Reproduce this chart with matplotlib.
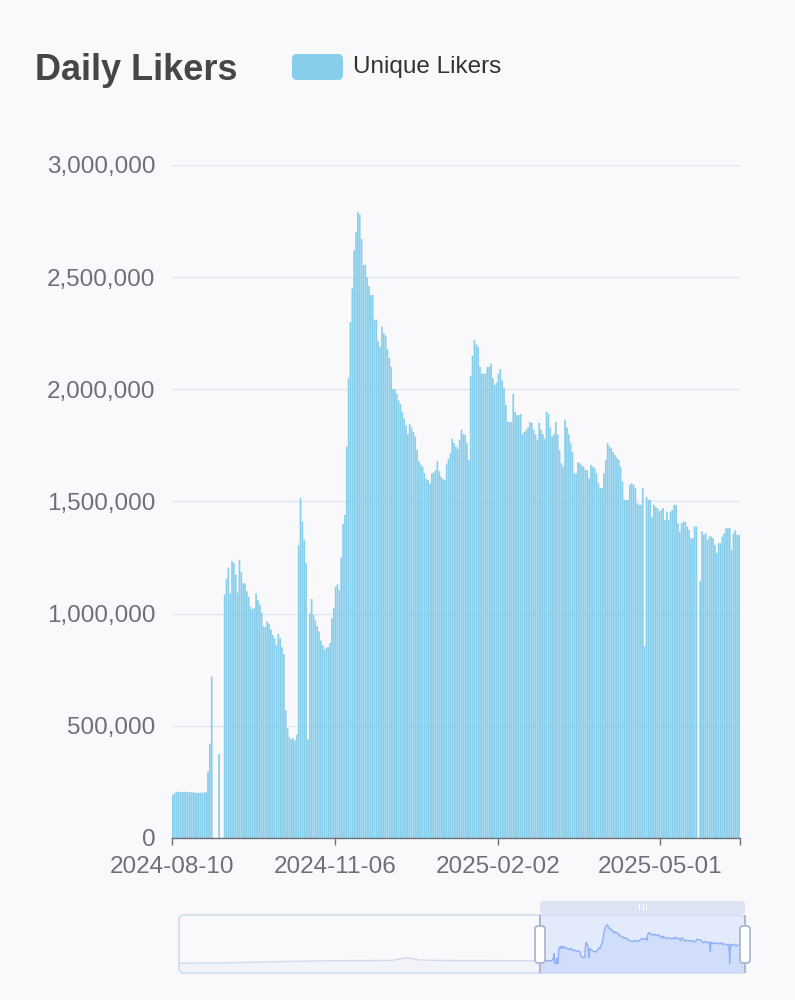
import numpy as np
import pandas as pd
import matplotlib
matplotlib.use("Agg")
import matplotlib.pyplot as plt
from matplotlib.patches import FancyBboxPatch, Rectangle
from matplotlib.transforms import IdentityTransform
from matplotlib.ticker import FuncFormatter

## Data (daily unique likers, thousands) ##
start_date = "2024-08-10"
likers_aug_sep = [192, 200, 205, 206, 205, 205, 205, 206, 205, 205, 204, 204, 203, 200, 201, 202,
                  202, 203, 205, 296, 420, 720, 0, 0, 0, 375, 0, 0, 1085, 1155, 1205, 1090, 1235,
                  1225, 1175, 1095, 1240, 1185, 1135]
likers_sep_oct = [1135, 1100, 1075, 1030, 1020, 1025, 1090, 1060, 1040, 1005, 945, 940, 965, 955,
                  930, 905, 890, 860, 910, 890, 850, 820, 570, 490, 450, 440, 445, 435, 460, 1305,
                  1515, 1410, 1330, 1225, 440]
likers_oct_nov = [1000, 1065, 995, 970, 945, 920, 880, 860, 840, 850, 850, 870, 980, 1025, 1120,
                  1130, 1105, 1250, 1400, 1440, 1745, 2050, 2300, 2450, 2620, 2700, 2790]
likers_nov_jan = [2780, 2670, 2555, 2555, 2500, 2460, 2420, 2420, 2310, 2310, 2215, 2190, 2280,
                  2250, 2240, 2180, 2140, 2100, 2000, 2000, 1980, 1950, 1935, 1900, 1870, 1840,
                  1800, 1845, 1830, 1810, 1790, 1730, 1680, 1665, 1655, 1625, 1600, 1595, 1580,
                  1625, 1630, 1640, 1680, 1635, 1610, 1600, 1595, 1665, 1690, 1715, 1780, 1760,
                  1745, 1735, 1775, 1820, 1800, 1797, 1760, 1685]
likers_jan_mar = [2060, 2150, 2220, 2200, 2190, 2100, 2070, 2070, 2070, 2100, 2100, 2115, 2050,
                  2020, 2030, 2070, 2090, 2040, 2005, 1930, 1855, 1855, 1855, 1980, 1900, 1885,
                  1885, 1890, 1800, 1810, 1820, 1830, 1855, 1850, 1820, 1800, 1775, 1850, 1820,
                  1800, 1780, 1900, 1890, 1830, 1790, 1800, 1855, 1800, 1730, 1670, 1655, 1865,
                  1830, 1800, 1760, 1720, 1625, 1625, 1675, 1670]
likers_mar_jun = [1660, 1655, 1640, 1640, 1603, 1663, 1655, 1648, 1626, 1581, 1560, 1560, 1626,
                  1685, 1760, 1745, 1737, 1720, 1707, 1695, 1685, 1655, 1588, 1507, 1507, 1507,
                  1574, 1581, 1575, 1560, 1492, 1485, 1485, 1560, 855, 1520, 1507, 1507, 1430,
                  1485, 1475, 1470, 1455, 1462, 1470, 1418, 1455, 1418, 1455, 1462, 1485, 1485,
                  1403, 1366, 1403, 1410, 1410, 1388, 1373, 1336, 1336, 1388, 1388, 0, 1145, 1366,
                  1351, 1358, 1329, 1344, 1344, 1336, 1307, 1270, 1314, 1314, 1344, 1358, 1381,
                  1381, 1381, 1284, 1358, 1373, 1351, 1351]
# coarse history shown only in the zoom slider (thousands, every 20 days)
history_likers = [10, 20, 30, 45, 60, 80, 100, 120, 140, 160, 175, 190, 200, 210, 215, 220, 230,
                  420, 250, 230, 220, 215, 210, 210, 205, 205, 200]
history_end = "2024-07-21"
tick_dates = ["2024-08-10", "2024-11-06", "2025-02-02", "2025-05-01"]
## END Data ##

BG = "#f9f9fc"
BAR = "#87ceeb"
GRAY = "#6e7079"
W, H = 795, 1000

plt.rcParams['font.family'] = ['Liberation Sans', 'DejaVu Sans']

likers = np.array(likers_aug_sep + likers_sep_oct + likers_oct_nov + likers_nov_jan
                  + likers_jan_mar + likers_mar_jun) * 1000.0
N = len(likers)
days = np.arange(N)
t0 = pd.Timestamp(start_date)
tick_pos = [(pd.Timestamp(t) - t0).days for t in tick_dates]

hist_dates = pd.date_range(end=history_end, periods=len(history_likers), freq="20D")
hist_x = np.array([(d - t0).days for d in hist_dates])
hist_y = np.array(history_likers) * 1000.0


def box(x0, y0, x1, y1):
    # pixel box (top-left origin) -> figure fractions
    return [x0 / W, 1 - y1 / H, (x1 - x0) / W, (y1 - y0) / H]


fig = plt.figure(figsize=(W / 100, H / 100), dpi=100, facecolor=BG)

## main bar chart ##
ax = fig.add_axes(box(172, 165, 740, 838))
ax.set_facecolor(BG)
ax.bar(days, likers, width=0.92, align='edge', color=BAR, linewidth=0, snap=False)
ax.set_xlim(0, N)
ax.set_ylim(0, 3e6)
ax.set_yticks(np.arange(0, 3.0e6 + 1, 5e5))
ax.yaxis.set_major_formatter(FuncFormatter(lambda v, p: f"{int(v):,}"))
ax.grid(axis='y', color='#e0e6f1', lw=1)
ax.set_axisbelow(True)
for s in ['top', 'right', 'left']:
    ax.spines[s].set_visible(False)
ax.spines['bottom'].set_color(GRAY)
ax.spines['bottom'].set_linewidth(1)
ax.set_xticks(tick_pos + [N])
ax.set_xticklabels(tick_dates + [""])
ax.tick_params(axis='y', length=0, pad=12, labelsize=17.5, labelcolor=GRAY)
ax.tick_params(axis='x', length=5, width=1, color=GRAY, pad=8, labelsize=17.5, labelcolor=GRAY)

## title and legend ##
fig.text(35 / W, 1 - 71 / H, "Daily Likers", fontsize=26, fontweight='bold', color='#464646',
         va='center', ha='left')
fig.patches.append(FancyBboxPatch((292, H - 80), 51, 26, boxstyle="round,pad=0,rounding_size=5",
                                  transform=IdentityTransform(), facecolor=BAR, edgecolor='none'))
fig.text(353 / W, 1 - 67 / H, "Unique Likers", fontsize=17.5, color='#333333', va='center', ha='left')

## zoom slider ##
sx = fig.add_axes(box(179, 915, 745, 973))
sx.set_xlim(-541, N)
y_lo, y_hi = -0.69e6, 3.51e6
sx.set_ylim(y_lo, y_hi)
sx.axis('off')
hx = np.append(hist_x, 0)
hy = np.append(hist_y, likers[0])
sx.plot(hx, hy, color='#d2dbee', lw=1)
sx.fill_between(hx, y_lo, hy, color='#d2dbee', alpha=0.2, lw=0)
sx.plot(days, likers, color='#8fb0f7', lw=1)
sx.fill_between(days, y_lo, likers, color='#8fb0f7', alpha=0.2, lw=0)
sx.axvspan(0, N, color=(135 / 255, 175 / 255, 1.0), alpha=0.2, lw=0)

fig.patches.append(FancyBboxPatch((179, H - 973), 566, 58, boxstyle="round,pad=0,rounding_size=5",
                                  transform=IdentityTransform(), facecolor='none',
                                  edgecolor='#d2dbee', lw=1.2))
# move handle on top of the selected window
fig.patches.append(FancyBboxPatch((540, H - 914), 205, 13, boxstyle="round,pad=0,rounding_size=3",
                                  transform=IdentityTransform(), facecolor='#d2dbee',
                                  edgecolor='none', alpha=0.7))
for gx in [639, 642.5, 646]:
    fig.patches.append(Rectangle((gx, H - 910), 1.2, 6, transform=IdentityTransform(),
                                 facecolor='white', edgecolor='none'))
for hxp in [540, 745]:
    fig.patches.append(Rectangle((hxp - 0.6, H - 973), 1.2, 58, transform=IdentityTransform(),
                                 facecolor='#acb8d1', edgecolor='none'))
    fig.patches.append(FancyBboxPatch((hxp - 5, H - 963), 10, 37,
                                      boxstyle="round,pad=0,rounding_size=3",
                                      transform=IdentityTransform(), facecolor='white',
                                      edgecolor='#acb8d1', lw=1.3))

fig.savefig("out.png", dpi=100, facecolor=BG)
